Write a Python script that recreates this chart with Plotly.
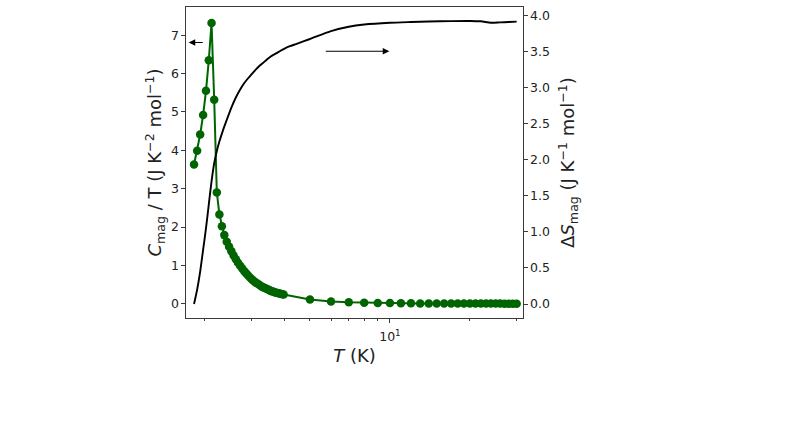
import numpy as np
import plotly.graph_objects as go

# Temperature grid (K) for C_mag/T
T = [1.83, 1.88, 1.93, 1.98, 2.03, 2.08, 2.13, 2.18, 2.23, 2.28, 2.33, 2.38, 2.43,
     2.48, 2.53, 2.58, 2.63, 2.68, 2.73, 2.78, 2.83, 2.88, 2.93, 2.98, 3.03, 3.08,
     3.13, 3.18, 3.23, 3.28, 3.33, 3.38, 3.43, 3.48, 3.53, 3.58, 3.63, 3.68, 3.73,
     3.78, 3.83, 3.88, 3.93, 3.98,
     5, 6, 7, 8, 9, 10, 11, 12, 13, 14, 15, 16, 17, 18, 19, 20, 21, 22, 23, 24,
     25, 26, 27, 28, 29, 30]
C_over_T = [3.63, 3.99, 4.41, 4.92, 5.55, 6.35, 7.32, 5.32, 2.90, 2.33, 2.02, 1.79, 1.62,
            1.49, 1.37, 1.26, 1.16, 1.07, 0.99, 0.92, 0.85, 0.79, 0.73, 0.68, 0.63, 0.59,
            0.55, 0.52, 0.49, 0.46, 0.43, 0.41, 0.39, 0.37, 0.35, 0.33, 0.32, 0.30, 0.29,
            0.28, 0.27, 0.26, 0.25, 0.24,
            0.11, 0.06, 0.04, 0.03, 0.02, 0.02, 0.015, 0.012, 0.01, 0.01, 0.01, 0.008, 0.008,
            0.007, 0.007, 0.006, 0.006, 0.006, 0.005, 0.005, 0.005, 0.005, 0.004, 0.004,
            0.004, 0.004]

# Entropy curve
T_S = [1.83, 1.88, 1.93, 1.98, 2.03, 2.08, 2.13, 2.18, 2.23, 2.28, 2.33, 2.38, 2.43,
       2.53, 2.63, 2.73, 2.83, 2.93, 3.03, 3.13, 3.23, 3.38, 3.48, 3.6, 3.73, 3.85,
       3.98, 4.2, 4.43, 5, 6, 7, 8, 10, 12, 14, 17, 20, 22, 24, 26, 28, 30]
dS = [0.00, 0.20, 0.45, 0.75, 1.05, 1.38, 1.70, 1.95, 2.12, 2.25, 2.36, 2.46, 2.55,
      2.72, 2.86, 2.97, 3.06, 3.13, 3.19, 3.25, 3.30, 3.36, 3.40, 3.44, 3.47, 3.50,
      3.53, 3.57, 3.60, 3.67, 3.78, 3.84, 3.87, 3.895, 3.905, 3.912, 3.918, 3.92,
      3.915, 3.895, 3.90, 3.905, 3.91]

left_ticks = [0, 1, 2, 3, 4, 5, 6, 7]
right_ticks = [0.0, 0.5, 1.0, 1.5, 2.0, 2.5, 3.0, 3.5, 4.0]
x_major = [10]
x_minor = [2, 3, 4, 5, 6, 7, 8, 9, 20, 30]

FONT = "DejaVu Sans"
AX = "#3a3a3a"
TICK = 12.5
TITLE = 18

fig = go.Figure()
fig.add_trace(go.Scatter(x=T, y=C_over_T, mode="lines+markers",
                         line=dict(color="#006400", width=2),
                         marker=dict(color="#006400", size=8.5),
                         yaxis="y", showlegend=False))
fig.add_trace(go.Scatter(x=T_S, y=dS, mode="lines",
                         line=dict(color="black", width=1.9, shape="spline", smoothing=0.6),
                         yaxis="y2", showlegend=False))

fig.update_layout(
    width=786, height=423,
    margin=dict(l=186, r=263, t=6.5, b=104.7),
    paper_bgcolor="white", plot_bgcolor="white",
    font=dict(family=FONT, color="#222", size=TICK),
    xaxis=dict(type="log", range=[np.log10(1.707), np.log10(31.7)],
               tickmode="array", tickvals=x_major, ticktext=["10<sup>1</sup>"],
               ticks="outside", ticklen=4, tickwidth=1, tickcolor=AX,
               ticklabelstandoff=3,
               minor=dict(tickvals=x_minor, ticks="outside", ticklen=2.3,
                          tickwidth=0.8, tickcolor=AX, showgrid=False),
               showgrid=False, zeroline=False,
               showline=True, linecolor=AX, linewidth=1.2, mirror=True,
               title=dict(text="<i>T</i> (K)", font=dict(size=TITLE), standoff=6),
               tickfont=dict(size=TICK)),
    yaxis=dict(range=[-0.37, 7.735], tickvals=left_ticks,
               ticks="outside", ticklen=3.5, tickwidth=1, tickcolor=AX,
               showgrid=False, zeroline=False,
               showline=True, linecolor=AX, linewidth=1.2,
               title=dict(text="<i>C</i><sub>mag</sub> / T (J K<sup>−2</sup> mol<sup>−1</sup>)",
                          font=dict(size=TITLE), standoff=4),
               tickfont=dict(size=TICK)),
    yaxis2=dict(range=[-0.193, 4.113], tickvals=right_ticks,
                tickformat=".1f", overlaying="y", side="right",
                ticks="outside", ticklen=3.5, tickwidth=1, tickcolor=AX,
                showgrid=False, zeroline=False,
                showline=True, linecolor=AX, linewidth=1.2,
                title=dict(text="Δ<i>S</i><sub>mag</sub> (J K<sup>−1</sup> mol<sup>−1</sup>)",
                           font=dict(size=TITLE), standoff=12),
                tickfont=dict(size=TICK)),
)

# arrows indicating which axis each curve belongs to
arrow_left = dict(tail=(2.0, 6.81), head=(1.747, 6.81))
arrow_right = dict(tail=(5.66, 3.5), head=(9.95, 3.5))
fig.add_annotation(x=np.log10(arrow_left["head"][0]), y=arrow_left["head"][1],
                   ax=np.log10(arrow_left["tail"][0]), ay=arrow_left["tail"][1],
                   xref="x", yref="y", axref="x", ayref="y",
                   showarrow=True, arrowhead=2, arrowsize=1.2, arrowwidth=1.1,
                   arrowcolor="black", text="")
fig.add_annotation(x=np.log10(arrow_right["head"][0]), y=arrow_right["head"][1],
                   ax=np.log10(arrow_right["tail"][0]), ay=arrow_right["tail"][1],
                   xref="x", yref="y2", axref="x", ayref="y2",
                   showarrow=True, arrowhead=2, arrowsize=1.2, arrowwidth=1.1,
                   arrowcolor="black", text="")

fig.write_html("out.html")
